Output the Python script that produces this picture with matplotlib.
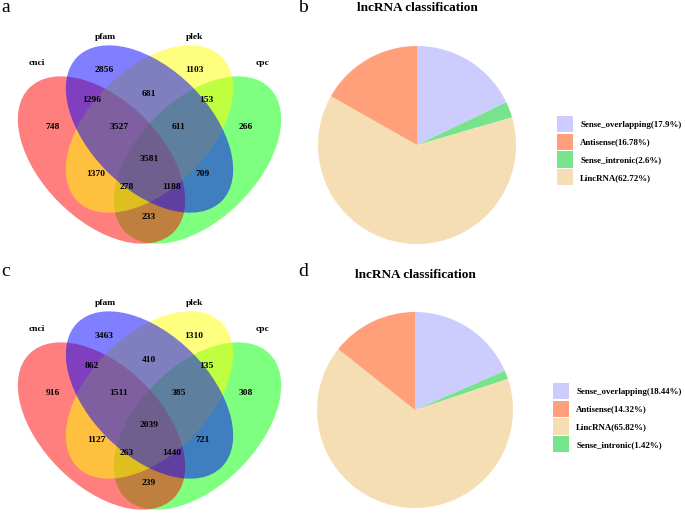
import matplotlib
matplotlib.use("Agg")
import matplotlib.pyplot as plt
from matplotlib.patches import Ellipse

# ---------------- data ----------------
set_names = ["cnci", "pfam", "plek", "cpc"]
venn_regions = ["cnci_only", "pfam_only", "plek_only", "cpc_only",
                "cnci_pfam", "pfam_plek", "plek_cpc",
                "cnci_pfam_plek", "pfam_plek_cpc", "all",
                "cnci_plek", "pfam_cpc", "cnci_plek_cpc", "cnci_pfam_cpc", "cnci_cpc"]
venn_a = [748, 2856, 1103, 266, 1296, 681, 153, 3527, 611, 3581, 1370, 709, 278, 1188, 233]
venn_c = [916, 3463, 1310, 308, 862, 410, 135, 1511, 385, 2039, 1127, 721, 263, 1440, 239]

pie_title = "lncRNA classification"
pie_b_labels = ["Sense_overlapping", "Sense_intronic", "LincRNA", "Antisense"]
pie_b_values = [17.9, 2.6, 62.72, 16.78]
pie_b_legend_order = ["Sense_overlapping", "Antisense", "Sense_intronic", "LincRNA"]

pie_d_labels = ["Sense_overlapping", "Sense_intronic", "LincRNA", "Antisense"]
pie_d_values = [18.44, 1.42, 65.82, 14.32]
pie_d_legend_order = ["Sense_overlapping", "Antisense", "LincRNA", "Sense_intronic"]

# ---------------- style ----------------
W, H = 685, 513
serif = ["Liberation Serif", "DejaVu Serif"]
venn_colors = {"cnci": "#FF0000", "pfam": "#0000FF", "plek": "#FFFF00", "cpc": "#00FF00"}
pie_colors = {"Sense_overlapping": "#CCCCFF", "Antisense": "#FFA07A",
              "Sense_intronic": "#77E38A", "LincRNA": "#F5DEB3"}

fig = plt.figure(figsize=(W / 100, H / 100), dpi=100)
ax = fig.add_axes([0, 0, 1, 1])
ax.set_xlim(0, W)
ax.set_ylim(H, 0)
ax.axis("off")

# ellipse geometry (pixel space)
A, B = 102, 60
ell_geom = {  # center, angle
    "cnci": ((101.5, 160), 45),
    "pfam": ((149.5, 129), 45),
    "plek": ((149.5, 129), -45),
    "cpc": ((197.5, 160), -45),
}
draw_order = ["cpc", "cnci", "plek", "pfam"]
label_pos = {"cnci": (37, 63), "pfam": (105, 37), "plek": (195, 37), "cpc": (263, 63)}
region_pos = {
    "pfam_only": (104, 70), "plek_only": (194, 70),
    "cnci_pfam": (92, 100), "pfam_plek": (149, 94), "plek_cpc": (206, 100),
    "cnci_only": (53, 127), "cnci_pfam_plek": (119, 127), "pfam_plek_cpc": (179, 127),
    "cpc_only": (246, 127), "all": (149, 159),
    "cnci_plek": (96, 174), "pfam_cpc": (203, 174),
    "cnci_plek_cpc": (127, 187), "cnci_pfam_cpc": (172, 187),
    "cnci_cpc": (149, 217),
}


def draw_venn(values, dy):
    for name in draw_order:
        (cx, cy), ang = ell_geom[name]
        ax.add_patch(Ellipse((cx, cy + dy), 2 * A, 2 * B, angle=ang,
                             facecolor=venn_colors[name], alpha=0.5,
                             edgecolor="none", zorder=1))
    for name in set_names:
        x, y = label_pos[name]
        ax.text(x, y + dy, name, ha="center", va="center", family=serif,
                fontweight="bold", fontsize=6.8, zorder=3)
    for reg, v in zip(venn_regions, values):
        x, y = region_pos[reg]
        ax.text(x, y + dy, str(v), ha="center", va="center", family=serif,
                fontweight="bold", fontsize=6.8, zorder=3)


draw_venn(venn_a, 0)
draw_venn(venn_c, 266)

LEG_FS = 6.4


def draw_pie(labels, values, order, cx, cy, r, title_y, leg_x, leg_y):
    pax = fig.add_axes([(cx - r) / W, 1 - (cy + r) / H, 2 * r / W, 2 * r / H])
    wedges, _ = pax.pie(values, colors=[pie_colors[l] for l in labels],
                        startangle=90, counterclock=False, radius=1)
    pax.set_xlim(-1, 1)
    pax.set_ylim(-1, 1)
    pax.axis("off")
    ax.text(cx, title_y, pie_title, ha="center", va="center", family=serif,
            fontweight="bold", fontsize=9.5)
    hmap = dict(zip(labels, wedges))
    vmap = dict(zip(labels, values))
    handles = [hmap[l] for l in order]
    texts = [f"{l}({vmap[l]:g}%)" for l in order]
    ax.legend(handles, texts, loc="upper left",
              bbox_to_anchor=(leg_x, leg_y), bbox_transform=ax.transData,
              frameon=False, borderpad=0, borderaxespad=0,
              handlelength=1.8, handleheight=2.4, handletextpad=0.8,
              labelspacing=0.19,
              prop={"family": serif, "weight": "bold", "size": LEG_FS})


draw_pie(pie_b_labels, pie_b_values, pie_b_legend_order, 417, 145, 99, 8, 557, 116)
leg = ax.get_legend()
ax.add_artist(leg)
draw_pie(pie_d_labels, pie_d_values, pie_d_legend_order, 415, 410, 98, 275, 553, 383)

# panel letters
for letter, (x, y) in {"a": (1, 7), "b": (298, 8), "c": (1, 271), "d": (298, 271)}.items():
    ax.text(x, y, letter, ha="left", va="center", family=serif, fontsize=14)

fig.savefig("out.png", dpi=100)
